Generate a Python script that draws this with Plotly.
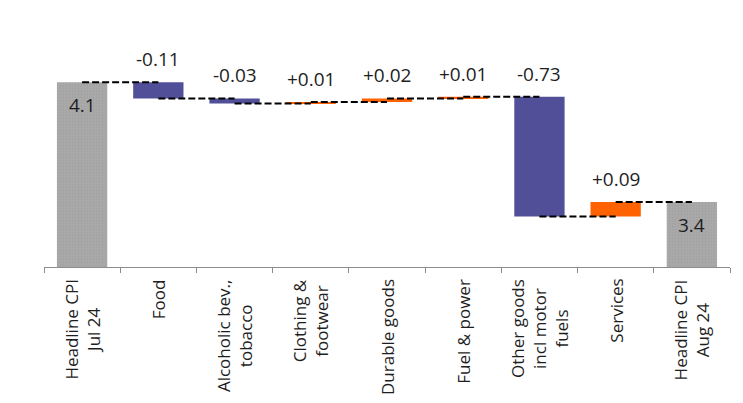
import plotly.graph_objects as go

# categories (tick labels)
categories = [
    "Headline CPI<br>Jul 24",
    "Food",
    "Alcoholic bev.,<br>tobacco",
    "Clothing &<br>footwear",
    "Durable goods",
    "Fuel & power",
    "Other goods<br>incl motor<br>fuels",
    "Services",
    "Headline CPI<br>Aug 24",
]

start_value = 4.1
end_value = 3.4
# contributions as drawn (pp)
contributions = [-0.095, -0.03, 0.01, 0.02, 0.01, -0.70, 0.085]
contribution_labels = ["-0.11", "-0.03", "+0.01", "+0.02", "+0.01", "-0.73", "+0.09"]

GREY = "#A9A9A9"
PURPLE = "#524F99"
ORANGE = "#FF6200"
TEXT = "#1e1e1e"
FONT = "Open Sans, sans-serif"

# running levels
levels = [start_value]
for c in contributions:
    levels.append(levels[-1] + c)

fig = go.Figure()

# total bars
fig.add_trace(go.Bar(
    x=[categories[0], categories[-1]],
    y=[start_value, end_value],
    marker=dict(color=GREY, line=dict(width=0),
                pattern=dict(shape=".", fgcolor="#999999", size=3, solidity=0.3)),
    width=0.66,
    hoverinfo="skip",
))

# contribution bars
bases = []
heights = []
colors = []
for i, c in enumerate(contributions):
    bases.append(min(levels[i], levels[i + 1]))
    heights.append(abs(c))
    colors.append(ORANGE if c > 0 else PURPLE)

fig.add_trace(go.Bar(
    x=categories[1:-1],
    y=heights,
    base=bases,
    marker=dict(color=colors, line=dict(width=0)),
    width=0.66,
    hoverinfo="skip",
))

# dashed connectors, center to center
cx, cy = [], []
for i in range(len(categories) - 1):
    lvl = levels[i] if i < len(levels) - 1 else end_value
    cx += [categories[i], categories[i + 1], None]
    cy += [lvl, lvl, None]

fig.add_trace(go.Scatter(
    x=cx, y=cy, mode="lines",
    line=dict(color="black", width=2, dash="7px,3px"),
    hoverinfo="skip",
))

# value labels
annotations = []
for i, lab in enumerate(contribution_labels):
    top = max(levels[i], levels[i + 1])
    annotations.append(dict(
        x=categories[i + 1], y=top, text=lab, showarrow=False,
        yanchor="bottom", yshift=8,
        font=dict(size=19, color=TEXT, family=FONT),
    ))
for cat, val in [(categories[0], start_value), (categories[-1], end_value)]:
    annotations.append(dict(
        x=cat, y=val, text=f"{val:.1f}", showarrow=False,
        yanchor="top", yshift=-8,
        font=dict(size=19, color=TEXT, family=FONT),
    ))

# category labels, rotated and centred line by line
for cat in categories:
    annotations.append(dict(
        x=cat, y=0, xref="x", yref="paper", text=cat, showarrow=False,
        textangle=-90, align="center",
        yanchor="top", xanchor="center", yshift=-10,
        font=dict(size=17, color=TEXT, family=FONT),
    ))

# page body has an 8px margin, so the figure is a little smaller than the window
fig.update_layout(
    width=735, height=395,
    margin=dict(l=36, r=13, t=40, b=136, autoexpand=False),
    paper_bgcolor="white", plot_bgcolor="white",
    showlegend=False,
    barmode="overlay",
    annotations=annotations,
    font=dict(family=FONT, color=TEXT, size=14),
)
fig.update_xaxes(
    type="category",
    categoryorder="array", categoryarray=categories,
    showticklabels=False,
    showline=True, linecolor="#8c8c8c", linewidth=1,
    ticks="outside", tickson="boundaries", ticklen=5, tickcolor="#8c8c8c",
    showgrid=False, automargin=False,
)
fig.update_yaxes(
    range=[3.02, 4.3],
    visible=False,
    showgrid=False,
    zeroline=False,
    automargin=False,
)

fig.write_html("out.html")
